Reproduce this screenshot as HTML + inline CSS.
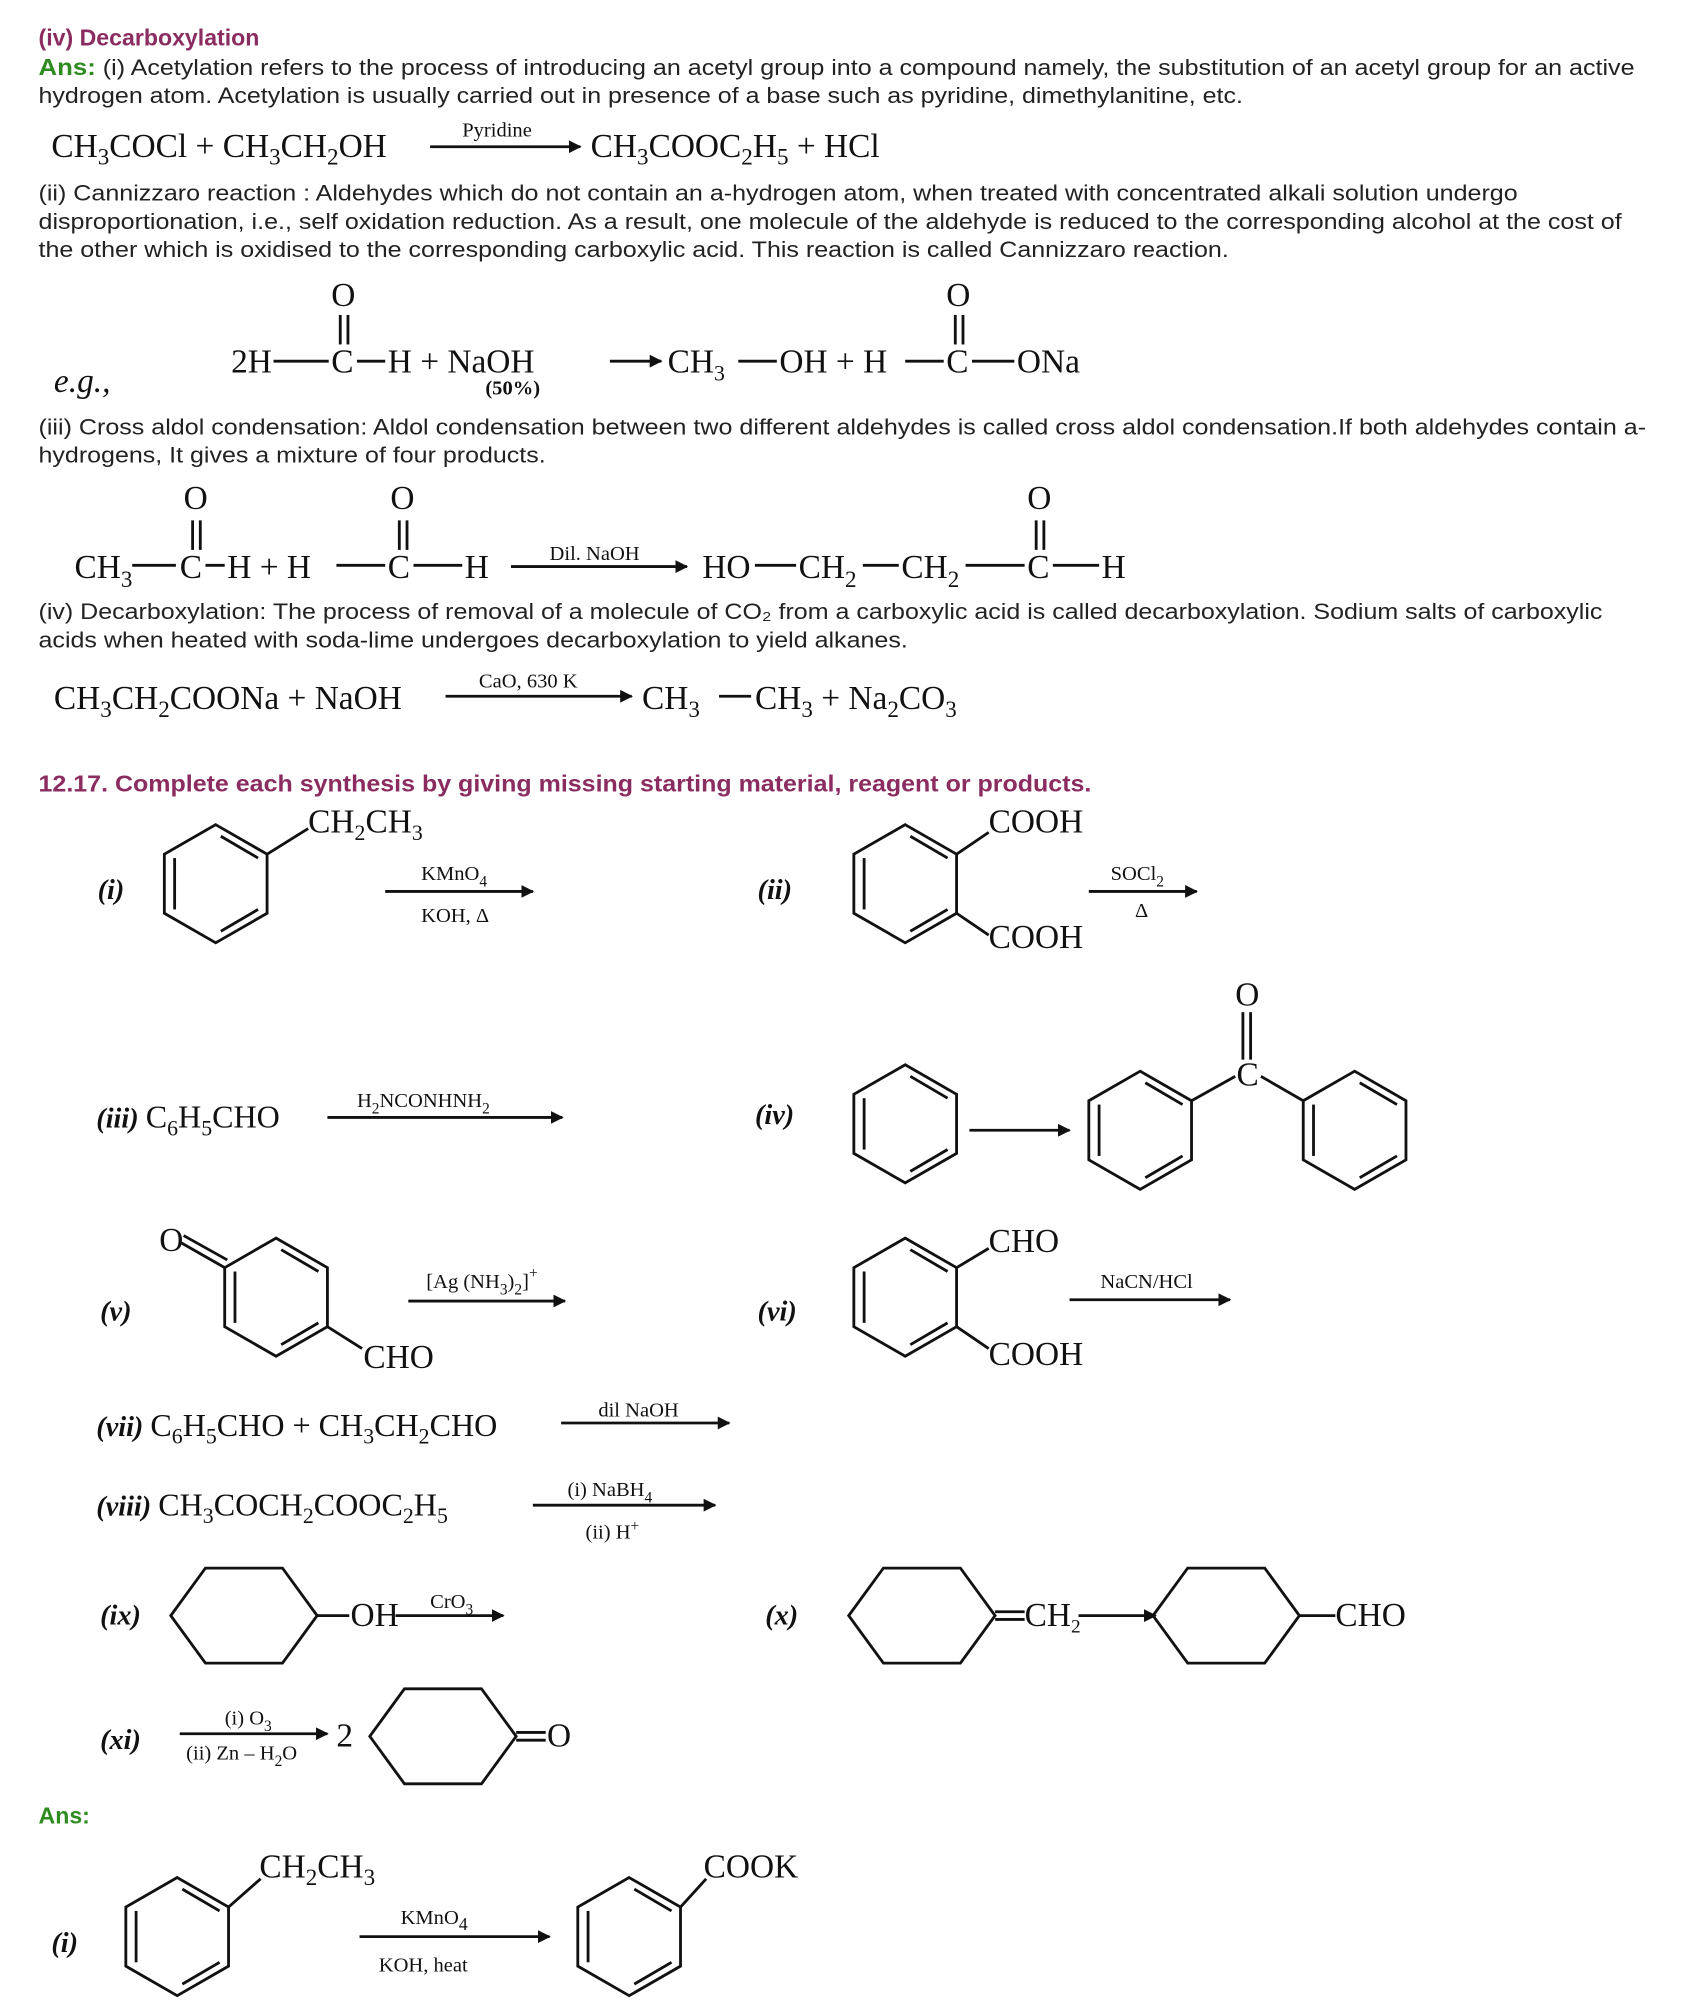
<!DOCTYPE html>
<html><head><meta charset="utf-8"><style>
html,body{margin:0;padding:0;background:#fff}
svg{display:block}
.b{font-family:"Liberation Sans",sans-serif;font-size:17.5px;fill:#222}
.h{font-family:"Liberation Sans",sans-serif;font-size:18px;font-weight:bold;fill:#8b2c61}
.g{font-family:"Liberation Sans",sans-serif;font-size:18px;font-weight:bold;fill:#2e8b1f}
.c{font-family:"Liberation Serif",serif;font-size:26px;fill:#111}
.s{font-family:"Liberation Serif",serif;font-size:16px;fill:#111}
.l{font-family:"Liberation Serif",serif;font-size:22px;font-weight:bold;font-style:italic;fill:#111}
line,path,polygon{stroke:#111;stroke-width:2.2;fill:none}
</style></head><body>
<svg width="1700" height="2014" viewBox="0 0 1324 1568" xmlns="http://www.w3.org/2000/svg">
<defs>
<g id="bz"><polygon points="0,-46 40,-23 40,23 0,46 -40,23 -40,-23"/>
<line x1="-32" y1="-20" x2="-32" y2="20"/><line x1="4" y1="-37" x2="33" y2="-20"/><line x1="4" y1="37" x2="33" y2="20"/></g>
<g id="cy"><polygon points="-57,0 -30,-37 30,-37 57,0 30,37 -30,37"/></g>
<marker id="ar" markerWidth="10" markerHeight="10" refX="9" refY="5" orient="auto" markerUnits="userSpaceOnUse"><path d="M0,0 L10,5 L0,10 Z" style="fill:#111;stroke:none"/></marker>
</defs>

<text x="30" y="35" class="h">(iv) Decarboxylation</text>
<text x="30" y="58" class="b" textLength="1243" lengthAdjust="spacingAndGlyphs"><tspan class="g" style="font-size:18px">Ans:</tspan> (i) Acetylation refers to the process of introducing an acetyl group into a compound namely, the substitution of an acetyl group for an active</text>
<text x="30" y="80" class="b" textLength="938" lengthAdjust="spacingAndGlyphs">hydrogen atom. Acetylation is usually carried out in presence of a base such as pyridine, dimethylanitine, etc.</text>

<text x="40" y="122" class="c">CH<tspan dy="6" font-size="18">3</tspan><tspan dy="-6">COCl + CH</tspan><tspan dy="6" font-size="18">3</tspan><tspan dy="-6">CH</tspan><tspan dy="6" font-size="18">2</tspan><tspan dy="-6">OH</tspan></text>
<text x="360" y="106" class="s">Pyridine</text><line x1="335" y1="114" x2="452" y2="114" marker-end="url(#ar)"/>
<text x="460" y="122" class="c">CH<tspan dy="6" font-size="18">3</tspan><tspan dy="-6">COOC</tspan><tspan dy="6" font-size="18">2</tspan><tspan dy="-6">H</tspan><tspan dy="6" font-size="18">5</tspan><tspan dy="-6"> + HCl</tspan></text>

<text x="30" y="156" class="b" textLength="1152" lengthAdjust="spacingAndGlyphs">(ii) Cannizzaro reaction : Aldehydes which do not contain an a-hydrogen atom, when treated with concentrated alkali solution undergo</text>
<text x="30" y="178" class="b" textLength="1233" lengthAdjust="spacingAndGlyphs">disproportionation, i.e., self oxidation reduction. As a result, one molecule of the aldehyde is reduced to the corresponding alcohol at the cost of</text>
<text x="30" y="200" class="b" textLength="927" lengthAdjust="spacingAndGlyphs">the other which is oxidised to the corresponding carboxylic acid. This reaction is called Cannizzaro reaction.</text>

<text x="258" y="238" class="c" font-size="24">O</text>
<line x1="265" y1="245" x2="265" y2="268"/><line x1="271" y1="245" x2="271" y2="268"/>
<text x="180" y="290" class="c" font-size="24">2H</text><line x1="213" y1="281" x2="256" y2="281"/>
<text x="258" y="290" class="c" font-size="24">C</text><line x1="278" y1="281" x2="300" y2="281"/>
<text x="302" y="290" class="c" font-size="24">H + NaOH</text>
<line x1="475" y1="281" x2="515" y2="281" marker-end="url(#ar)"/>
<text x="520" y="290" class="c" font-size="24">CH<tspan dy="6" font-size="17">3</tspan></text><line x1="575" y1="281" x2="605" y2="281"/>
<text x="607" y="290" class="c" font-size="24">OH + H</text><line x1="705" y1="281" x2="735" y2="281"/>
<text x="737" y="290" class="c" font-size="24">C</text><line x1="757" y1="281" x2="790" y2="281"/>
<text x="792" y="290" class="c" font-size="24">ONa</text>
<text x="737" y="238" class="c" font-size="24">O</text>
<line x1="744" y1="245" x2="744" y2="268"/><line x1="750" y1="245" x2="750" y2="268"/>
<text x="42" y="305" class="c" font-size="20" font-style="italic">e.g.,</text>
<text x="378" y="307" class="s" font-weight="bold">(50%)</text>

<text x="30" y="338" class="b" textLength="1252" lengthAdjust="spacingAndGlyphs">(iii) Cross aldol condensation: Aldol condensation between two different aldehydes is called cross aldol condensation.If both aldehydes contain a-</text>
<text x="30" y="360" class="b" textLength="395" lengthAdjust="spacingAndGlyphs">hydrogens, It gives a mixture of four products.</text>

<text x="143" y="396" class="c" font-size="24">O</text><line x1="150" y1="405" x2="150" y2="428"/><line x1="156" y1="405" x2="156" y2="428"/>
<text x="304" y="396" class="c" font-size="24">O</text><line x1="311" y1="405" x2="311" y2="428"/><line x1="317" y1="405" x2="317" y2="428"/>
<text x="800" y="396" class="c" font-size="24">O</text><line x1="807" y1="405" x2="807" y2="428"/><line x1="813" y1="405" x2="813" y2="428"/>
<text x="58" y="450" class="c">CH<tspan dy="7" font-size="18">3</tspan></text><line x1="103" y1="440" x2="137" y2="440"/>
<text x="140" y="450" class="c">C</text><line x1="160" y1="440" x2="175" y2="440"/>
<text x="177" y="450" class="c">H + H</text><line x1="262" y1="440" x2="300" y2="440"/>
<text x="302" y="450" class="c">C</text><line x1="322" y1="440" x2="360" y2="440"/>
<text x="362" y="450" class="c">H</text>
<text x="428" y="436" class="s">Dil. NaOH</text><line x1="398" y1="441" x2="535" y2="441" marker-end="url(#ar)"/>
<text x="547" y="450" class="c">HO</text><line x1="588" y1="440" x2="620" y2="440"/>
<text x="622" y="450" class="c">CH<tspan dy="7" font-size="18">2</tspan></text><line x1="672" y1="440" x2="700" y2="440"/>
<text x="702" y="450" class="c">CH<tspan dy="7" font-size="18">2</tspan></text><line x1="752" y1="440" x2="798" y2="440"/>
<text x="800" y="450" class="c">C</text><line x1="820" y1="440" x2="856" y2="440"/>
<text x="858" y="450" class="c">H</text>

<text x="30" y="482" class="b" textLength="1218" lengthAdjust="spacingAndGlyphs">(iv) Decarboxylation: The process of removal of a molecule of CO₂ from a carboxylic acid is called decarboxylation. Sodium salts of carboxylic</text>
<text x="30" y="504" class="b" textLength="677" lengthAdjust="spacingAndGlyphs">acids when heated with soda-lime undergoes decarboxylation to yield alkanes.</text>

<text x="42" y="552" class="c">CH<tspan dy="6" font-size="18">3</tspan><tspan dy="-6">CH</tspan><tspan dy="6" font-size="18">2</tspan><tspan dy="-6">COONa + NaOH</tspan></text>
<text x="373" y="535" class="s">CaO, 630 K</text><line x1="347" y1="542" x2="492" y2="542" marker-end="url(#ar)"/>
<text x="500" y="552" class="c">CH<tspan dy="6" font-size="18">3</tspan></text><line x1="560" y1="542" x2="585" y2="542"/>
<text x="588" y="552" class="c">CH<tspan dy="6" font-size="18">3</tspan><tspan dy="-6"> + Na</tspan><tspan dy="6" font-size="18">2</tspan><tspan dy="-6">CO</tspan><tspan dy="6" font-size="18">3</tspan></text>

<text x="30" y="616" class="h" textLength="820" lengthAdjust="spacingAndGlyphs">12.17. Complete each synthesis by giving missing starting material, reagent or products.</text>

<!-- (i) -->
<text x="76" y="700" class="l">(i)</text>
<use href="#bz" x="168" y="688"/><line x1="208" y1="665" x2="240" y2="645"/>
<text x="240" y="648" class="c" font-size="24">CH<tspan dy="6" font-size="17">2</tspan><tspan dy="-6">CH</tspan><tspan dy="6" font-size="17">3</tspan></text>
<text x="328" y="685" class="s">KMnO<tspan dy="5" font-size="12">4</tspan></text>
<line x1="300" y1="694" x2="415" y2="694" marker-end="url(#ar)"/>
<text x="328" y="718" class="s">KOH, Δ</text>
<!-- (ii) -->
<text x="590" y="700" class="l">(ii)</text>
<use href="#bz" x="705" y="688"/>
<line x1="745" y1="665" x2="770" y2="648"/><line x1="745" y1="711" x2="770" y2="728"/>
<text x="770" y="648" class="c" font-size="24">COOH</text>
<text x="770" y="738" class="c" font-size="24">COOH</text>
<text x="865" y="685" class="s">SOCl<tspan dy="5" font-size="12">2</tspan></text>
<line x1="848" y1="694" x2="932" y2="694" marker-end="url(#ar)"/>
<text x="884" y="714" class="s" font-size="13">Δ</text>
<!-- (iii) -->
<text x="75" y="878" class="l">(iii) <tspan font-style="normal" font-weight="normal" font-size="25">C<tspan dy="6" font-size="17">6</tspan><tspan dy="-6">H</tspan><tspan dy="6" font-size="17">5</tspan><tspan dy="-6">CHO</tspan></tspan></text>
<text x="278" y="862" class="s" font-size="17">H<tspan dy="5" font-size="12">2</tspan><tspan dy="-5">NCONHNH</tspan><tspan dy="5" font-size="12">2</tspan></text>
<line x1="255" y1="870" x2="438" y2="870" marker-end="url(#ar)"/>
<!-- (iv) -->
<text x="588" y="875" class="l">(iv)</text>
<use href="#bz" x="705" y="875"/>
<line x1="755" y1="880" x2="833" y2="880" marker-end="url(#ar)"/>
<use href="#bz" x="888" y="880"/>
<line x1="928" y1="857" x2="962" y2="838"/><line x1="982" y1="838" x2="1015" y2="857"/>
<text x="963" y="845" class="c" font-size="20">C</text>
<line x1="968" y1="788" x2="968" y2="825"/><line x1="974" y1="788" x2="974" y2="825"/>
<text x="962" y="783" class="c" font-size="20">O</text>
<use href="#bz" x="1055" y="880"/>
<!-- (v) -->
<text x="78" y="1028" class="l">(v)</text>
<use href="#bz" x="215" y="1010"/>
<text x="124" y="974" class="c" font-size="20">O</text>
<line x1="140" y1="967" x2="175" y2="987"/><line x1="143" y1="962" x2="177" y2="981"/>
<line x1="255" y1="1033" x2="282" y2="1050"/>
<text x="283" y="1065" class="c" font-size="23">CHO</text>
<text x="332" y="1003" class="s">[Ag (NH<tspan dy="5" font-size="12">3</tspan><tspan dy="-5">)</tspan><tspan dy="5" font-size="12">2</tspan><tspan dy="-5">]</tspan><tspan dy="-8" font-size="12">+</tspan></text>
<line x1="318" y1="1013" x2="440" y2="1013" marker-end="url(#ar)"/>
<!-- (vi) -->
<text x="590" y="1028" class="l">(vi)</text>
<use href="#bz" x="705" y="1010"/>
<line x1="745" y1="987" x2="770" y2="972"/><line x1="745" y1="1033" x2="770" y2="1050"/>
<text x="770" y="975" class="c" font-size="24">CHO</text>
<text x="770" y="1063" class="c" font-size="24">COOH</text>
<text x="857" y="1003" class="s">NaCN/HCl</text>
<line x1="833" y1="1012" x2="958" y2="1012" marker-end="url(#ar)"/>
<!-- (vii) -->
<text x="75" y="1118" class="l">(vii) <tspan font-style="normal" font-weight="normal" font-size="25">C<tspan dy="6" font-size="17">6</tspan><tspan dy="-6">H</tspan><tspan dy="6" font-size="17">5</tspan><tspan dy="-6">CHO + CH</tspan><tspan dy="6" font-size="17">3</tspan><tspan dy="-6">CH</tspan><tspan dy="6" font-size="17">2</tspan><tspan dy="-6">CHO</tspan></tspan></text>
<text x="466" y="1103" class="s">dil NaOH</text>
<line x1="437" y1="1108" x2="568" y2="1108" marker-end="url(#ar)"/>
<!-- (viii) -->
<text x="75" y="1180" class="l">(viii) <tspan font-style="normal" font-weight="normal" font-size="25">CH<tspan dy="6" font-size="17">3</tspan><tspan dy="-6">COCH</tspan><tspan dy="6" font-size="17">2</tspan><tspan dy="-6">COOC</tspan><tspan dy="6" font-size="17">2</tspan><tspan dy="-6">H</tspan><tspan dy="6" font-size="17">5</tspan></tspan></text>
<text x="442" y="1165" class="s">(i) NaBH<tspan dy="5" font-size="12">4</tspan></text>
<line x1="415" y1="1172" x2="557" y2="1172" marker-end="url(#ar)"/>
<text x="456" y="1198" class="s">(ii) H<tspan dy="-6" font-size="12">+</tspan></text>
<!-- (ix) -->
<text x="78" y="1265" class="l">(ix)</text>
<use href="#cy" x="190" y="1258"/><line x1="247" y1="1258" x2="272" y2="1258"/>
<text x="273" y="1266" class="c" font-size="22">OH</text>
<text x="335" y="1252" class="s">CrO<tspan dy="5" font-size="12">3</tspan></text>
<line x1="308" y1="1258" x2="392" y2="1258" marker-end="url(#ar)"/>
<!-- (x) -->
<text x="596" y="1265" class="l">(x)</text>
<use href="#cy" x="718" y="1258"/>
<line x1="775" y1="1255" x2="798" y2="1255"/><line x1="775" y1="1261" x2="798" y2="1261"/>
<text x="798" y="1266" class="c" font-size="22">CH<tspan dy="5" font-size="15">2</tspan></text>
<line x1="840" y1="1258" x2="900" y2="1258" marker-end="url(#ar)"/>
<use href="#cy" x="955" y="1258"/><line x1="1012" y1="1258" x2="1040" y2="1258"/>
<text x="1040" y="1266" class="c" font-size="22">CHO</text>
<!-- (xi) -->
<text x="78" y="1362" class="l">(xi)</text>
<text x="175" y="1343" class="s">(i) O<tspan dy="5" font-size="12">3</tspan></text>
<line x1="140" y1="1350" x2="255" y2="1350" marker-end="url(#ar)"/>
<text x="145" y="1370" class="s">(ii) Zn – H<tspan dy="5" font-size="12">2</tspan><tspan dy="-5">O</tspan></text>
<text x="262" y="1360" class="c" font-size="22">2</text>
<use href="#cy" x="345" y="1352"/>
<line x1="402" y1="1349" x2="425" y2="1349"/><line x1="402" y1="1355" x2="425" y2="1355"/>
<text x="426" y="1360" class="c" font-size="22">O</text>

<text x="30" y="1420" class="g">Ans:</text>
<text x="40" y="1520" class="l">(i)</text>
<use href="#bz" x="138" y="1508"/><line x1="178" y1="1485" x2="203" y2="1463"/>
<text x="202" y="1462" class="c" font-size="26">CH<tspan dy="6" font-size="18">2</tspan><tspan dy="-6">CH</tspan><tspan dy="6" font-size="18">3</tspan></text>
<text x="312" y="1498" class="s" font-size="19">KMnO<tspan dy="5" font-size="14">4</tspan></text>
<line x1="280" y1="1508" x2="428" y2="1508" marker-end="url(#ar)"/>
<text x="295" y="1535" class="s" font-size="19">KOH, heat</text>
<use href="#bz" x="490" y="1508"/><line x1="530" y1="1485" x2="550" y2="1463"/>
<text x="548" y="1462" class="c" font-size="26">COOK</text>
</svg>
</body></html>
